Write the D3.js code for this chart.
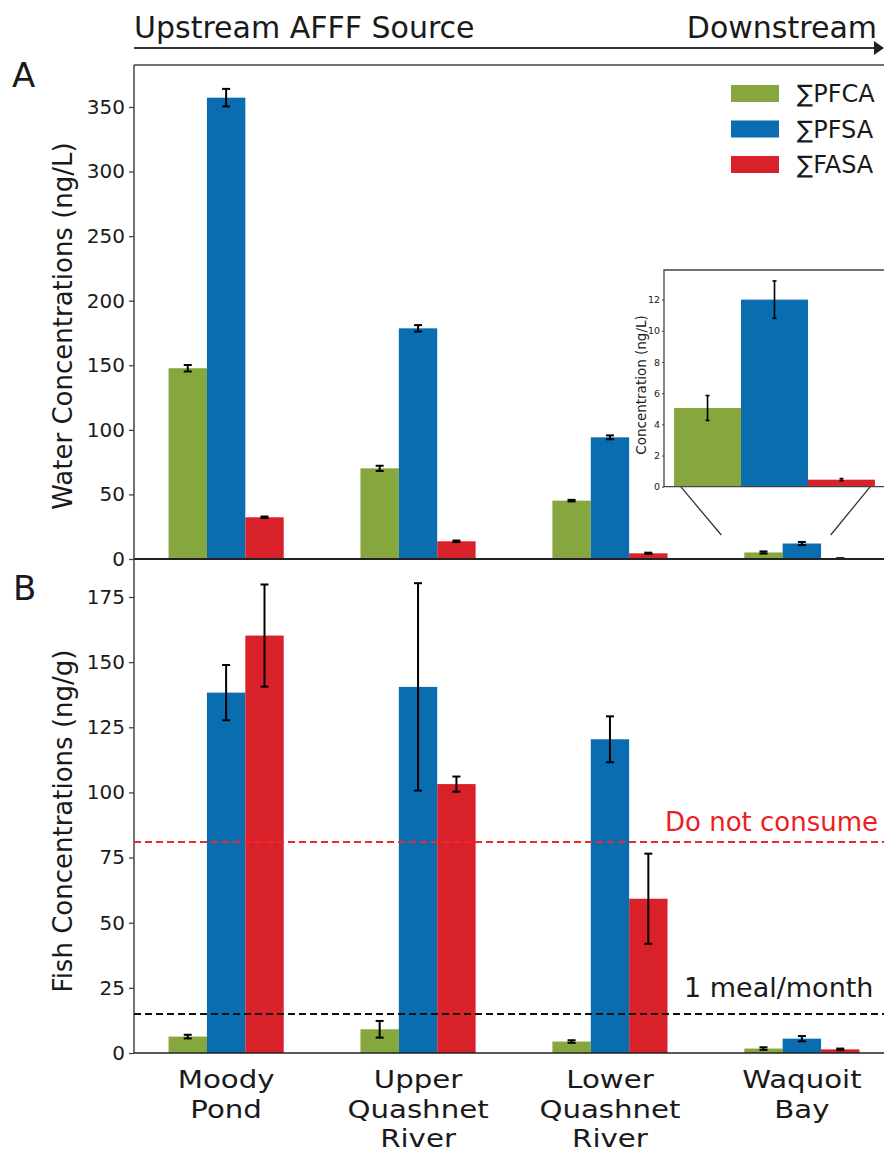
<!DOCTYPE html>
<html>
<head>
<meta charset="utf-8">
<script src="https://cdn.jsdelivr.net/npm/d3@7"></script>
<style>
  body { margin: 0; background: #fff; }
  text { font-family: "DejaVu Sans", sans-serif; fill: #1a1a1a; }
</style>
</head>
<body>
<svg width="884" height="1153"></svg>
<script>
var svg = d3.select("svg");

// sites, upstream -> downstream
var sites = [["Moody", "Pond"], ["Upper", "Quashnet", "River"], ["Lower", "Quashnet", "River"], ["Waquoit", "Bay"]];
var series = ["∑PFCA", "∑PFSA", "∑FASA"];
var colors = ["#86a63e", "#0a6daf", "#d92129"];

// water (ng/L)
var waterPFCA = [147.7, 70.2, 45.2, 5.05];
var waterPFCAerr = [2.5, 2.0, 0.6, 0.8];
var waterPFSA = [357.2, 178.6, 94.2, 12.0];
var waterPFSAerr = [6.8, 2.5, 1.5, 1.2];
var waterFASA = [32.3, 13.7, 4.4, 0.45];
var waterFASAerr = [0.6, 0.6, 0.5, 0.07];

// fish (ng/g)
var fishPFCA = [6.3, 9.1, 4.4, 1.7];
var fishPFCAerr = [0.7, 3.2, 0.5, 0.5];
var fishPFSA = [138.3, 140.5, 120.4, 5.5];
var fishPFSAerr = [10.6, 39.8, 8.8, 1.0];
var fishFASA = [160.2, 103.2, 59.2, 1.4];
var fishFASAerr = [19.6, 2.9, 17.3, 0.3];

var waterTicks = [0, 50, 100, 150, 200, 250, 300, 350];
var fishTicks = [0, 25, 50, 75, 100, 125, 150, 175];
var insetTicks = [0, 2, 4, 6, 8, 10, 12];

var doNotConsume = 81;
var oneMealMonth = 15;

var water = [waterPFCA, waterPFSA, waterFASA];
var waterErr = [waterPFCAerr, waterPFSAerr, waterFASAerr];
var fish = [fishPFCA, fishPFSA, fishFASA];
var fishErr = [fishPFCAerr, fishPFSAerr, fishFASAerr];

var x = d3.scaleLinear().domain([-0.48, 3.48]).range([134, 894]);
var yA = d3.scaleLinear().domain([0, 382.5]).range([559, 65]);
var yB = d3.scaleLinear().domain([0, 189.2]).range([1053, 560]);
var barW = 0.2;
var offsets = [-0.2, 0, 0.2];

var axisColor = "#444";

function bars(g, vals, errs, y, capHalf) {
  vals.forEach(function(v, s) {
    var rows = v.map(function(d, i) { return { i: i, v: d, e: errs[s][i] }; });
    g.append("g").selectAll("rect").data(rows).enter().append("rect")
      .attr("x", function(d) { return x(d.i + offsets[s] - barW / 2); })
      .attr("width", function(d) { return x(barW) - x(0); })
      .attr("y", function(d) { return y(d.v); })
      .attr("height", function(d) { return y(0) - y(d.v); })
      .attr("fill", colors[s]);
    var eb = g.append("g").attr("stroke", "#000").attr("stroke-width", 2)
      .selectAll("g").data(rows).enter().append("g");
    eb.append("line")
      .attr("x1", function(d) { return x(d.i + offsets[s]); })
      .attr("x2", function(d) { return x(d.i + offsets[s]); })
      .attr("y1", function(d) { return y(d.v - d.e); })
      .attr("y2", function(d) { return y(d.v + d.e); });
    [-1, 1].forEach(function(k) {
      eb.append("line")
        .attr("x1", function(d) { return x(d.i + offsets[s]) - capHalf; })
        .attr("x2", function(d) { return x(d.i + offsets[s]) + capHalf; })
        .attr("y1", function(d) { return y(d.v + k * d.e); })
        .attr("y2", function(d) { return y(d.v + k * d.e); });
    });
  });
}

function yAxis(y, ticks, top) {
  var ax = svg.append("g")
    .attr("transform", "translate(134,0)")
    .call(d3.axisLeft(y).tickValues(ticks).tickSize(5).tickPadding(4));
  ax.select(".domain").remove();
  ax.selectAll("line").attr("stroke", axisColor).attr("stroke-width", 1.3);
  ax.selectAll("text").style("font-size", "20px").attr("fill", "#1a1a1a");
  svg.append("line").attr("x1", 134).attr("x2", 134)
    .attr("y1", top).attr("y2", y(0))
    .attr("stroke", axisColor).attr("stroke-width", 1.5);
}

// ----- arrow header -----
svg.append("line").attr("x1", 134).attr("x2", 876).attr("y1", 48).attr("y2", 48)
  .attr("stroke", "#333").attr("stroke-width", 2);
svg.append("path").attr("d", "M874,41 L884,48 L874,55 Z").attr("fill", "#222");
svg.append("text").attr("x", 134).attr("y", 38).style("font-size", "30px").text("Upstream AFFF Source");
svg.append("text").attr("x", 877).attr("y", 38).attr("text-anchor", "end").style("font-size", "30px").text("Downstream");

// ----- panel A -----
var gA = svg.append("g");
svg.append("line").attr("x1", 134).attr("x2", 884).attr("y1", 65).attr("y2", 65)
  .attr("stroke", axisColor).attr("stroke-width", 1.5);
bars(gA, water, waterErr, yA, 4);
yAxis(yA, waterTicks, 65);

svg.append("text").attr("x", 12).attr("y", 87).style("font-size", "34px").text("A");
svg.append("text").attr("transform", "translate(72,326) rotate(-90)")
  .attr("text-anchor", "middle").style("font-size", "26px").text("Water Concentrations (ng/L)");

// legend
var leg = svg.append("g").selectAll("g").data(series).enter().append("g")
  .attr("transform", function(d, i) { return "translate(731," + (85 + i * 35.5) + ")"; });
leg.append("rect").attr("width", 48).attr("height", 17).attr("fill", function(d, i) { return colors[i]; });
leg.append("text").attr("x", 66).attr("y", 17).style("font-size", "24px").text(function(d) { return d; });

// inset: Waquoit Bay water values
var xi = d3.scaleLinear().domain([-0.65, 2.65]).range([664, 885]);
var yi = d3.scaleLinear().domain([0, 13.9]).range([486.7, 270]);
var wi = sites.length - 1;
var insetRows = series.map(function(s, k) { return { k: k, v: water[k][wi], e: waterErr[k][wi] }; });

// connector lines from inset to the zoomed region
svg.append("line").attr("x1", xi(-0.4)).attr("y1", yi(0)).attr("x2", x(2.58)).attr("y2", yA(18.6))
  .attr("stroke", "#333").attr("stroke-width", 1.3);
svg.append("line").attr("x1", xi(2.43)).attr("y1", yi(0)).attr("x2", x(3.15)).attr("y2", yA(18.6))
  .attr("stroke", "#333").attr("stroke-width", 1.3);

var gi = svg.append("g");
gi.append("rect").attr("x", 664).attr("y", 270).attr("width", 230).attr("height", yi(0) - 270).attr("fill", "#fff");
gi.selectAll("rect.b").data(insetRows).enter().append("rect").attr("class", "b")
  .attr("x", function(d) { return xi(d.k - 0.5); })
  .attr("width", xi(1) - xi(0))
  .attr("y", function(d) { return yi(d.v); })
  .attr("height", function(d) { return yi(0) - yi(d.v); })
  .attr("fill", function(d) { return colors[d.k]; });
var ie = gi.append("g").attr("stroke", "#000").attr("stroke-width", 1.6)
  .selectAll("g").data(insetRows).enter().append("g");
ie.append("line")
  .attr("x1", function(d) { return xi(d.k); }).attr("x2", function(d) { return xi(d.k); })
  .attr("y1", function(d) { return yi(d.v - d.e); }).attr("y2", function(d) { return yi(d.v + d.e); });
[-1, 1].forEach(function(k) {
  ie.append("line")
    .attr("x1", function(d) { return xi(d.k) - 2; }).attr("x2", function(d) { return xi(d.k) + 2; })
    .attr("y1", function(d) { return yi(d.v + k * d.e); }).attr("y2", function(d) { return yi(d.v + k * d.e); });
});
gi.append("path").attr("d", "M884,270 H664 V" + yi(0) + " H884")
  .attr("fill", "none").attr("stroke", axisColor).attr("stroke-width", 1.3);
var iax = gi.append("g").attr("transform", "translate(664,0)")
  .call(d3.axisLeft(yi).tickValues(insetTicks).tickSize(2).tickPadding(2));
iax.select(".domain").remove();
iax.selectAll("line").attr("stroke", axisColor);
iax.selectAll("text").style("font-size", "9.5px").attr("fill", "#1a1a1a");
gi.append("text").attr("transform", "translate(646,385) rotate(-90)")
  .attr("text-anchor", "middle").style("font-size", "13.5px").text("Concentration (ng/L)");

// ----- panel B -----
var gB = svg.append("g");
bars(gB, fish, fishErr, yB, 4);
yAxis(yB, fishTicks, 559);
svg.append("line").attr("x1", 134).attr("x2", 884).attr("y1", 559).attr("y2", 559)
  .attr("stroke", "#222").attr("stroke-width", 1.8);
svg.append("line").attr("x1", 134).attr("x2", 884).attr("y1", yB(0)).attr("y2", yB(0))
  .attr("stroke", "#222").attr("stroke-width", 1.6);

svg.append("line").attr("x1", 134).attr("x2", 884).attr("y1", yB(doNotConsume)).attr("y2", yB(doNotConsume))
  .attr("stroke", "#f0282e").attr("stroke-width", 2).attr("stroke-dasharray", "7,4");
svg.append("line").attr("x1", 134).attr("x2", 884).attr("y1", yB(oneMealMonth)).attr("y2", yB(oneMealMonth))
  .attr("stroke", "#111").attr("stroke-width", 2).attr("stroke-dasharray", "7,4");
svg.append("text").attr("x", 665).attr("y", yB(doNotConsume) - 11).style("font-size", "26px")
  .style("fill", "#ee1c24").text("Do not consume");
svg.append("text").attr("x", 684).attr("y", yB(oneMealMonth) - 17).style("font-size", "27px").text("1 meal/month");

svg.append("text").attr("x", 13).attr("y", 600).style("font-size", "34px").text("B");
svg.append("text").attr("transform", "translate(72,821) rotate(-90)")
  .attr("text-anchor", "middle").style("font-size", "26px").text("Fish Concentrations (ng/g)");

// site labels
var sl = svg.append("g").selectAll("text").data(sites).enter().append("text")
  .attr("text-anchor", "middle").style("font-size", "25px")
  .attr("transform", function(d, i) { return "translate(" + x(i) + ",0) scale(1.17,1)"; });
sl.selectAll("tspan").data(function(d) { return d; })
  .enter().append("tspan")
  .attr("x", 0)
  .attr("y", function(d, j) { return 1088.5 + j * 29.2; })
  .text(function(d) { return d; });
</script>
</body>
</html>
